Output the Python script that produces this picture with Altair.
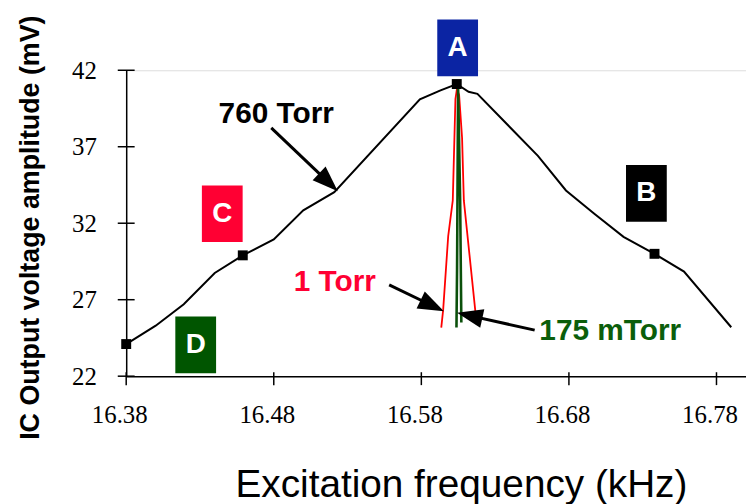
import math
import altair as alt
import pandas as pd

# ---------------- data ----------------
freq_760 = [16.380, 16.400, 16.419, 16.440, 16.459, 16.480, 16.500, 16.521, 16.579, 16.593,
            16.604, 16.612, 16.618, 16.659, 16.678, 16.697, 16.717, 16.738, 16.758, 16.790]
amp_760 = [24.1, 25.3, 26.7, 28.75, 29.9, 30.94, 32.84, 34.03, 40.1, 40.68,
           41.1, 40.59, 40.46, 36.4, 34.14, 32.63, 31.11, 30.0, 28.84, 25.2]

marker_freq = [16.380, 16.459, 16.604, 16.738]
marker_amp = [24.1, 29.9, 41.1, 30.0]

freq_1 = [16.5935, 16.5948, 16.5982, 16.6013, 16.6031, 16.6041, 16.6056, 16.6076, 16.6088, 16.6166]
amp_1 = [25.18, 26.35, 31.16, 33.49, 40.12, 40.77, 40.38, 37.58, 33.49, 26.24]

freq_175 = [16.6038, 16.6042, 16.6049, 16.6063, 16.6071]
amp_175 = [25.18, 28.95, 40.96, 33.49, 25.51]

box_letters = ["A", "B", "C", "D"]
box_x = [16.6046, 16.7325, 16.4451, 16.4271]
box_y = [43.46, 33.95, 32.62, 24.05]
box_colors = ["#0B24A3", "#000000", "#FF0033", "#005500"]

label_text = ["760 Torr", "1 Torr", "175 mTorr"]
label_x = [16.4817, 16.5214, 16.708]
label_y = [39.11, 28.17, 24.92]
label_colors = ["#000000", "#FF0033", "#0B5E0B"]

arrow_x0 = [16.4783, 16.5582, 16.6568]
arrow_y0 = [38.23, 27.97, 25.01]
arrow_x1 = [16.5234, 16.5953, 16.6042]
arrow_y1 = [34.09, 26.24, 26.14]

x_ticks = [16.38, 16.48, 16.58, 16.68, 16.78]
y_ticks = [22, 27, 32, 37, 42]

# ---------------- layout ----------------
W, H = 624, 308
XMIN, XMAX = 16.38, 16.80
YMIN, YMAX = 22, 42
px_x = W / (XMAX - XMIN)
px_y = H / (YMAX - YMIN)

SERIF = "Liberation Serif, Times New Roman, Times, serif"
SANS = "Liberation Sans, Arial, Helvetica, sans-serif"

xscale = alt.Scale(domain=[XMIN, XMAX], nice=False, zero=False)
yscale = alt.Scale(domain=[YMIN, YMAX], nice=False, zero=False)

xaxis = alt.Axis(
    values=x_ticks, format=".2f", ticks=False, tickSize=0, grid=False,
    domainColor="black", domainWidth=1.5,
    labelFont=SERIF, labelFontSize=25, labelColor="black",
    labelPadding=27, labelOffset=-7, labelFlush=False, labelOverlap=False,
    title="Excitation frequency (kHz)", titleFont=SANS,
    titleFontSize=39, titleFontWeight="normal", titleColor="black",
    titleX=337, titleY=121, titleAlign="center", titleBaseline="alphabetic",
)
yaxis = alt.Axis(
    values=y_ticks, format="d", ticks=False, tickSize=0, grid=False,
    domainColor="black", domainWidth=1.5,
    labelFont=SERIF, labelFontSize=25, labelColor="black",
    labelPadding=30, labelFlush=False, labelOverlap=False,
    title="IC Output voltage amplitude (mV)", titleFont=SANS,
    titleFontSize=27, titleFontWeight="bold", titleColor="black",
    titleX=-96, titleY=158, titleAngle=270, titleAlign="center", titleBaseline="middle",
)

X = lambda f="f": alt.X(f"{f}:Q", scale=xscale)
Y = lambda f="a": alt.Y(f"{f}:Q", scale=yscale)

# ---------------- frames ----------------
df760 = pd.DataFrame({"f": freq_760, "a": amp_760, "o": range(len(freq_760))})
dfm = pd.DataFrame({"f": marker_freq, "a": marker_amp})
df1 = pd.DataFrame({"f": freq_1, "a": amp_1, "o": range(len(freq_1))})
df175 = pd.DataFrame({"f": freq_175, "a": amp_175, "o": range(len(freq_175))})
dfbox = pd.DataFrame({"f": box_x, "a": box_y, "t": box_letters, "c": box_colors})
dflab = pd.DataFrame({"f": label_x, "a": label_y, "t": label_text, "c": label_colors})

rows = []
for x0, y0, x1, y1 in zip(arrow_x0, arrow_y0, arrow_x1, arrow_y1):
    dx = (x1 - x0) * px_x
    dy = -(y1 - y0) * px_y
    L = math.hypot(dx, dy)
    ang = (math.degrees(math.atan2(dx, -dy)) + 360) % 360
    back = 14.0
    xe = x1 - (dx / L * back) / px_x
    ye = y1 + (dy / L * back) / px_y
    rows.append({"f": x0, "a": y0, "f2": xe, "a2": ye, "hx": x1, "hy": y1, "ang": ang})
dfarr = pd.DataFrame(rows)

dfxt = pd.DataFrame({"f": x_ticks, "a": [YMIN] * len(x_ticks)})
dfyt = pd.DataFrame({"f": [XMIN] * len(y_ticks), "a": y_ticks})

# ---------------- layers ----------------
base_axes = alt.Chart(df760).mark_line(color="black", strokeWidth=2).encode(
    x=alt.X("f:Q", scale=xscale, axis=xaxis),
    y=alt.Y("a:Q", scale=yscale, axis=yaxis),
    order="o:Q",
)

xt = alt.Chart(dfxt).mark_tick(orient="vertical", size=13, thickness=1.5,
                               color="black", opacity=1, yOffset=2.5).encode(x=X(), y=Y())
yt = alt.Chart(dfyt).mark_tick(orient="horizontal", size=17, thickness=1.5,
                               color="black", opacity=1).encode(x=X(), y=Y())

red = alt.Chart(df1).mark_line(color="#FF0000", strokeWidth=1.8).encode(x=X(), y=Y(), order="o:Q")
green = alt.Chart(df175).mark_line(color="#0B500B", strokeWidth=2.6).encode(x=X(), y=Y(), order="o:Q")

markers = alt.Chart(dfm).mark_point(shape="square", size=100, filled=True, opacity=1,
                                    color="black").encode(x=X(), y=Y())

box_path = "M-0.72,-1H0.72V1H-0.72Z"
boxes = alt.Chart(dfbox).mark_point(shape=box_path, size=3249, filled=True, opacity=1,
                                    strokeWidth=0).encode(
    x=X(), y=Y(), color=alt.Color("c:N", scale=None))
letters = alt.Chart(dfbox).mark_text(font=SANS, fontWeight="bold", fontSize=28,
                                     color="white", align="center", baseline="middle").encode(
    x=X(), y=Y(), text="t:N")

labels = alt.Chart(dflab).mark_text(font=SANS, fontWeight="bold", fontSize=30,
                                    align="center", baseline="middle").encode(
    x=X(), y=Y(), text="t:N", color=alt.Color("c:N", scale=None))

shafts = alt.Chart(dfarr).mark_rule(color="black", strokeWidth=3).encode(
    x=X(), y=Y(), x2="f2:Q", y2="a2:Q")
head_path = "M0,0L0.73,2L-0.73,2Z"
heads = alt.Chart(dfarr).mark_point(shape=head_path, size=676, filled=True, opacity=1,
                                    color="black", strokeWidth=0).encode(
    x=X("hx"), y=Y("hy"), angle=alt.Angle("ang:Q", scale=None))

chart = alt.layer(
    base_axes, xt, yt, red, green, markers, boxes, letters, labels, shafts, heads
).properties(
    width=W, height=H,
    autosize=alt.AutoSizeParams(type="none"),
    padding={"left": 119, "top": 61, "right": 0, "bottom": 127},
).configure_view(stroke=None).configure(background="white")

chart.save("out.html", embed_options={"renderer": "svg", "actions": False})
